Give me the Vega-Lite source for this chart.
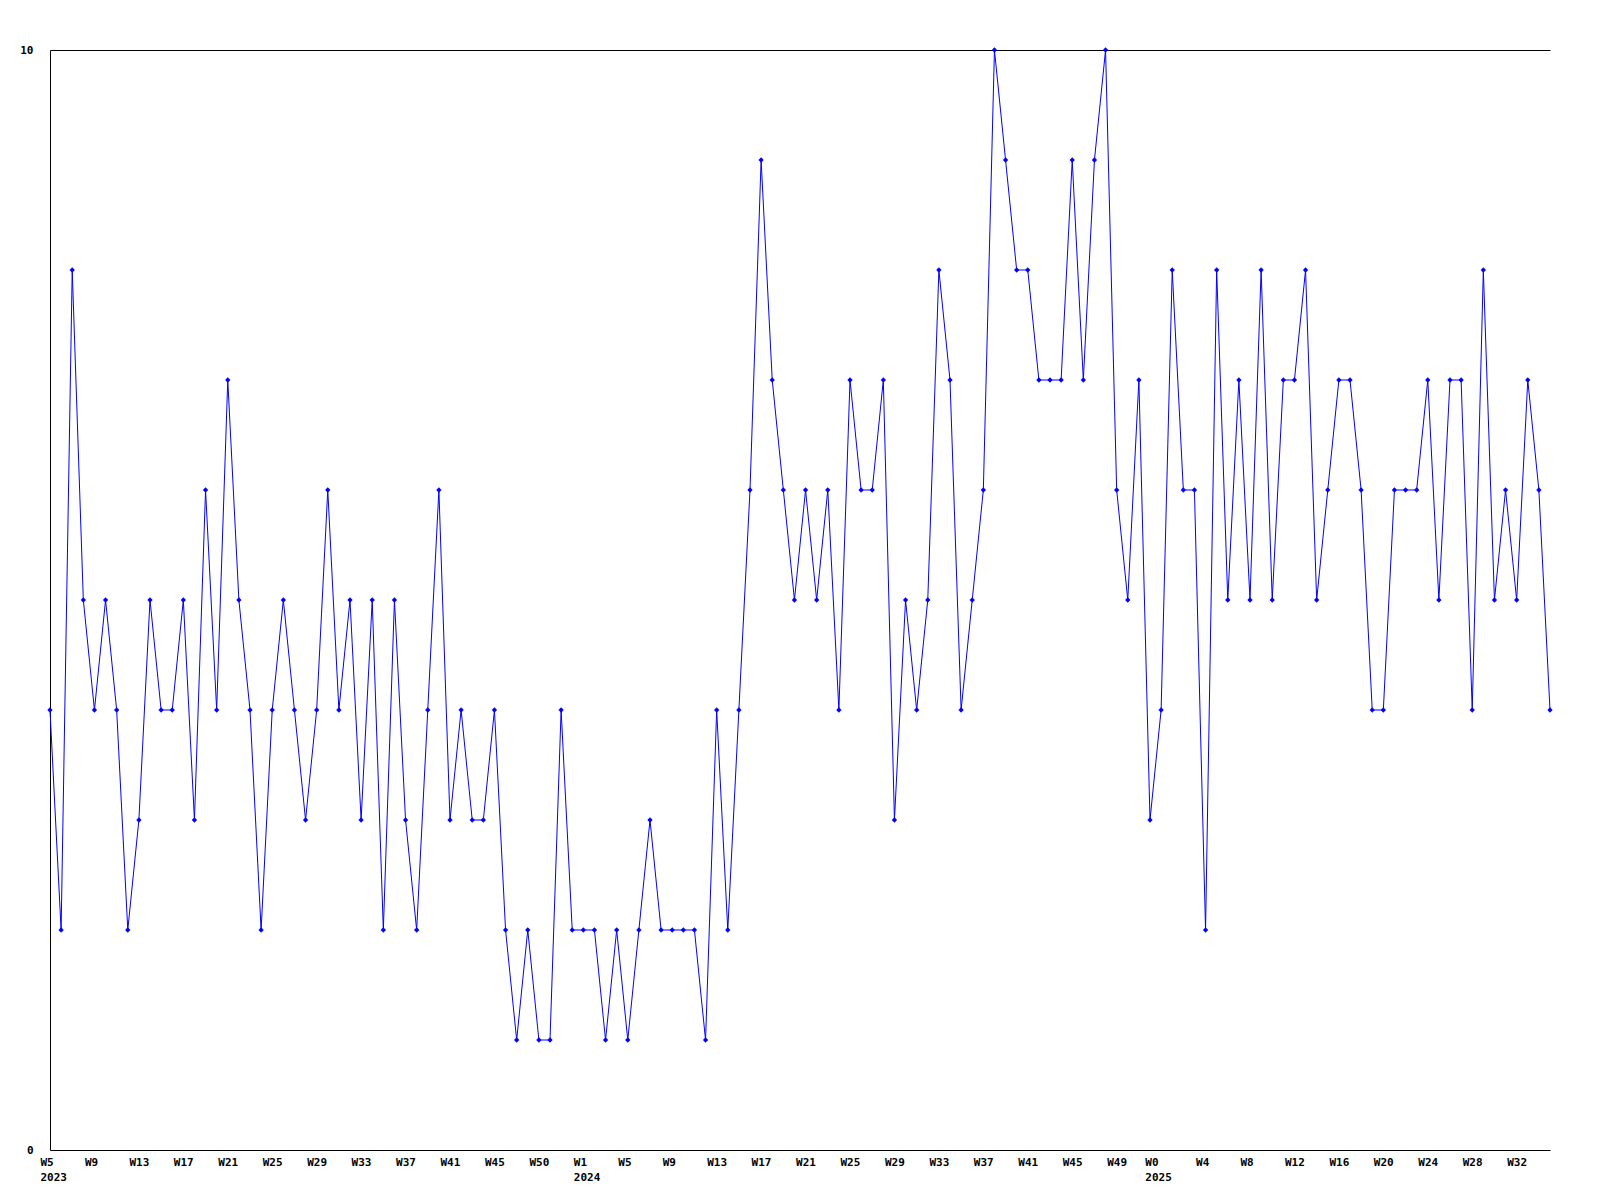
{
  "$schema": "https://vega.github.io/schema/vega-lite/v6.json",
  "width": 1500,
  "height": 1100,
  "autosize": {"type": "none"},
  "padding": {"left": 50, "top": 50, "right": 50, "bottom": 50},
  "background": "white",
  "config": {
    "view": {"stroke": null},
    "axis": {
      "labelFont": "DejaVu Sans Mono",
      "labelFontWeight": "bold",
      "labelFontSize": 11,
      "labelColor": "black",
      "domainColor": "black",
      "domainWidth": 1,
      "grid": false,
      "ticks": false,
      "tickSize": 0,
      "title": null,
      "labelOverlap": false,
      "labelBound": false,
      "labelFlush": false
    }
  },
  "data": {
    "values": [
      {"date": "2023-02-05T00:00:00", "value": 4},
      {"date": "2023-02-12T00:00:00", "value": 2},
      {"date": "2023-02-19T00:00:00", "value": 8},
      {"date": "2023-02-26T00:00:00", "value": 5},
      {"date": "2023-03-05T00:00:00", "value": 4},
      {"date": "2023-03-12T00:00:00", "value": 5},
      {"date": "2023-03-19T00:00:00", "value": 4},
      {"date": "2023-03-26T00:00:00", "value": 2},
      {"date": "2023-04-02T00:00:00", "value": 3},
      {"date": "2023-04-09T00:00:00", "value": 5},
      {"date": "2023-04-16T00:00:00", "value": 4},
      {"date": "2023-04-23T00:00:00", "value": 4},
      {"date": "2023-04-30T00:00:00", "value": 5},
      {"date": "2023-05-07T00:00:00", "value": 3},
      {"date": "2023-05-14T00:00:00", "value": 6},
      {"date": "2023-05-21T00:00:00", "value": 4},
      {"date": "2023-05-28T00:00:00", "value": 7},
      {"date": "2023-06-04T00:00:00", "value": 5},
      {"date": "2023-06-11T00:00:00", "value": 4},
      {"date": "2023-06-18T00:00:00", "value": 2},
      {"date": "2023-06-25T00:00:00", "value": 4},
      {"date": "2023-07-02T00:00:00", "value": 5},
      {"date": "2023-07-09T00:00:00", "value": 4},
      {"date": "2023-07-16T00:00:00", "value": 3},
      {"date": "2023-07-23T00:00:00", "value": 4},
      {"date": "2023-07-30T00:00:00", "value": 6},
      {"date": "2023-08-06T00:00:00", "value": 4},
      {"date": "2023-08-13T00:00:00", "value": 5},
      {"date": "2023-08-20T00:00:00", "value": 3},
      {"date": "2023-08-27T00:00:00", "value": 5},
      {"date": "2023-09-03T00:00:00", "value": 2},
      {"date": "2023-09-10T00:00:00", "value": 5},
      {"date": "2023-09-17T00:00:00", "value": 3},
      {"date": "2023-09-24T00:00:00", "value": 2},
      {"date": "2023-10-01T00:00:00", "value": 4},
      {"date": "2023-10-08T00:00:00", "value": 6},
      {"date": "2023-10-15T00:00:00", "value": 3},
      {"date": "2023-10-22T00:00:00", "value": 4},
      {"date": "2023-10-29T00:00:00", "value": 3},
      {"date": "2023-11-05T00:00:00", "value": 3},
      {"date": "2023-11-12T00:00:00", "value": 4},
      {"date": "2023-11-19T00:00:00", "value": 2},
      {"date": "2023-11-26T00:00:00", "value": 1},
      {"date": "2023-12-03T00:00:00", "value": 2},
      {"date": "2023-12-10T00:00:00", "value": 1},
      {"date": "2023-12-17T00:00:00", "value": 1},
      {"date": "2023-12-24T00:00:00", "value": 4},
      {"date": "2023-12-31T00:00:00", "value": 2},
      {"date": "2024-01-07T00:00:00", "value": 2},
      {"date": "2024-01-14T00:00:00", "value": 2},
      {"date": "2024-01-21T00:00:00", "value": 1},
      {"date": "2024-01-28T00:00:00", "value": 2},
      {"date": "2024-02-04T00:00:00", "value": 1},
      {"date": "2024-02-11T00:00:00", "value": 2},
      {"date": "2024-02-18T00:00:00", "value": 3},
      {"date": "2024-02-25T00:00:00", "value": 2},
      {"date": "2024-03-03T00:00:00", "value": 2},
      {"date": "2024-03-10T00:00:00", "value": 2},
      {"date": "2024-03-17T00:00:00", "value": 2},
      {"date": "2024-03-24T00:00:00", "value": 1},
      {"date": "2024-03-31T00:00:00", "value": 4},
      {"date": "2024-04-07T00:00:00", "value": 2},
      {"date": "2024-04-14T00:00:00", "value": 4},
      {"date": "2024-04-21T00:00:00", "value": 6},
      {"date": "2024-04-28T00:00:00", "value": 9},
      {"date": "2024-05-05T00:00:00", "value": 7},
      {"date": "2024-05-12T00:00:00", "value": 6},
      {"date": "2024-05-19T00:00:00", "value": 5},
      {"date": "2024-05-26T00:00:00", "value": 6},
      {"date": "2024-06-02T00:00:00", "value": 5},
      {"date": "2024-06-09T00:00:00", "value": 6},
      {"date": "2024-06-16T00:00:00", "value": 4},
      {"date": "2024-06-23T00:00:00", "value": 7},
      {"date": "2024-06-30T00:00:00", "value": 6},
      {"date": "2024-07-07T00:00:00", "value": 6},
      {"date": "2024-07-14T00:00:00", "value": 7},
      {"date": "2024-07-21T00:00:00", "value": 3},
      {"date": "2024-07-28T00:00:00", "value": 5},
      {"date": "2024-08-04T00:00:00", "value": 4},
      {"date": "2024-08-11T00:00:00", "value": 5},
      {"date": "2024-08-18T00:00:00", "value": 8},
      {"date": "2024-08-25T00:00:00", "value": 7},
      {"date": "2024-09-01T00:00:00", "value": 4},
      {"date": "2024-09-08T00:00:00", "value": 5},
      {"date": "2024-09-15T00:00:00", "value": 6},
      {"date": "2024-09-22T00:00:00", "value": 10},
      {"date": "2024-09-29T00:00:00", "value": 9},
      {"date": "2024-10-06T00:00:00", "value": 8},
      {"date": "2024-10-13T00:00:00", "value": 8},
      {"date": "2024-10-20T00:00:00", "value": 7},
      {"date": "2024-10-27T00:00:00", "value": 7},
      {"date": "2024-11-03T00:00:00", "value": 7},
      {"date": "2024-11-10T00:00:00", "value": 9},
      {"date": "2024-11-17T00:00:00", "value": 7},
      {"date": "2024-11-24T00:00:00", "value": 9},
      {"date": "2024-12-01T00:00:00", "value": 10},
      {"date": "2024-12-08T00:00:00", "value": 6},
      {"date": "2024-12-15T00:00:00", "value": 5},
      {"date": "2024-12-22T00:00:00", "value": 7},
      {"date": "2024-12-29T00:00:00", "value": 3},
      {"date": "2025-01-05T00:00:00", "value": 4},
      {"date": "2025-01-12T00:00:00", "value": 8},
      {"date": "2025-01-19T00:00:00", "value": 6},
      {"date": "2025-01-26T00:00:00", "value": 6},
      {"date": "2025-02-02T00:00:00", "value": 2},
      {"date": "2025-02-09T00:00:00", "value": 8},
      {"date": "2025-02-16T00:00:00", "value": 5},
      {"date": "2025-02-23T00:00:00", "value": 7},
      {"date": "2025-03-02T00:00:00", "value": 5},
      {"date": "2025-03-09T00:00:00", "value": 8},
      {"date": "2025-03-16T00:00:00", "value": 5},
      {"date": "2025-03-23T00:00:00", "value": 7},
      {"date": "2025-03-30T00:00:00", "value": 7},
      {"date": "2025-04-06T00:00:00", "value": 8},
      {"date": "2025-04-13T00:00:00", "value": 5},
      {"date": "2025-04-20T00:00:00", "value": 6},
      {"date": "2025-04-27T00:00:00", "value": 7},
      {"date": "2025-05-04T00:00:00", "value": 7},
      {"date": "2025-05-11T00:00:00", "value": 6},
      {"date": "2025-05-18T00:00:00", "value": 4},
      {"date": "2025-05-25T00:00:00", "value": 4},
      {"date": "2025-06-01T00:00:00", "value": 6},
      {"date": "2025-06-08T00:00:00", "value": 6},
      {"date": "2025-06-15T00:00:00", "value": 6},
      {"date": "2025-06-22T00:00:00", "value": 7},
      {"date": "2025-06-29T00:00:00", "value": 5},
      {"date": "2025-07-06T00:00:00", "value": 7},
      {"date": "2025-07-13T00:00:00", "value": 7},
      {"date": "2025-07-20T00:00:00", "value": 4},
      {"date": "2025-07-27T00:00:00", "value": 8},
      {"date": "2025-08-03T00:00:00", "value": 5},
      {"date": "2025-08-10T00:00:00", "value": 6},
      {"date": "2025-08-17T00:00:00", "value": 5},
      {"date": "2025-08-24T00:00:00", "value": 7},
      {"date": "2025-08-31T00:00:00", "value": 6},
      {"date": "2025-09-07T00:00:00", "value": 4}
    ]
  },
  "resolve": {"axis": {"x": "independent"}},
  "layer": [
    {
      "mark": {"type": "line", "opacity": 0},
      "encoding": {
        "x": {
          "field": "date",
          "type": "temporal",
          "scale": {"nice": false, "padding": 0},
          "axis": {"orient": "top", "domain": true, "labels": false}
        },
        "y": {"field": "value", "type": "quantitative"}
      }
    },
    {
      "mark": {
        "type": "line",
        "color": "#0000ff",
        "strokeWidth": 1,
        "point": {"shape": "diamond", "size": 28, "color": "#0000ff", "filled": true}
      },
      "encoding": {
        "x": {
          "field": "date",
          "type": "temporal",
          "scale": {"nice": false, "padding": 0},
          "axis": {
            "orient": "bottom",
            "domain": true,
            "labelAlign": "left",
            "labelBaseline": "top",
            "labelOffset": -10,
            "labelPadding": 6,
            "labelLineHeight": 15,
            "values": [
              {"year": 2023, "month": 2, "date": 5},
              {"year": 2023, "month": 3, "date": 5},
              {"year": 2023, "month": 4, "date": 2},
              {"year": 2023, "month": 4, "date": 30},
              {"year": 2023, "month": 5, "date": 28},
              {"year": 2023, "month": 6, "date": 25},
              {"year": 2023, "month": 7, "date": 23},
              {"year": 2023, "month": 8, "date": 20},
              {"year": 2023, "month": 9, "date": 17},
              {"year": 2023, "month": 10, "date": 15},
              {"year": 2023, "month": 11, "date": 12},
              {"year": 2023, "month": 12, "date": 10},
              {"year": 2024, "month": 1, "date": 7},
              {"year": 2024, "month": 2, "date": 4},
              {"year": 2024, "month": 3, "date": 3},
              {"year": 2024, "month": 3, "date": 31},
              {"year": 2024, "month": 4, "date": 28},
              {"year": 2024, "month": 5, "date": 26},
              {"year": 2024, "month": 6, "date": 23},
              {"year": 2024, "month": 7, "date": 21},
              {"year": 2024, "month": 8, "date": 18},
              {"year": 2024, "month": 9, "date": 15},
              {"year": 2024, "month": 10, "date": 13},
              {"year": 2024, "month": 11, "date": 10},
              {"year": 2024, "month": 12, "date": 8},
              {"year": 2025, "month": 1, "date": 1},
              {"year": 2025, "month": 2, "date": 2},
              {"year": 2025, "month": 3, "date": 2},
              {"year": 2025, "month": 3, "date": 30},
              {"year": 2025, "month": 4, "date": 27},
              {"year": 2025, "month": 5, "date": 25},
              {"year": 2025, "month": 6, "date": 22},
              {"year": 2025, "month": 7, "date": 20},
              {"year": 2025, "month": 8, "date": 17}
            ],
            "labelExpr": "[timeFormat(datum.value, '%Y-%m-%d') == '2023-12-10' ? 'W50' : 'W' + timeFormat(datum.value, '%-W'), (timeFormat(datum.value, '%Y-%m-%d') == '2023-02-05' || (month(datum.value) == 0 && date(datum.value) <= 28)) ? timeFormat(datum.value, '%Y') : '']"
          }
        },
        "y": {
          "field": "value",
          "type": "quantitative",
          "scale": {"domain": [0, 10], "nice": false, "zero": true},
          "axis": {
            "orient": "left",
            "domain": true,
            "values": [0, 10],
            "format": "d",
            "labelPadding": 17,
            "labelAlign": "right",
            "labelBaseline": "middle"
          }
        }
      }
    }
  ]
}
